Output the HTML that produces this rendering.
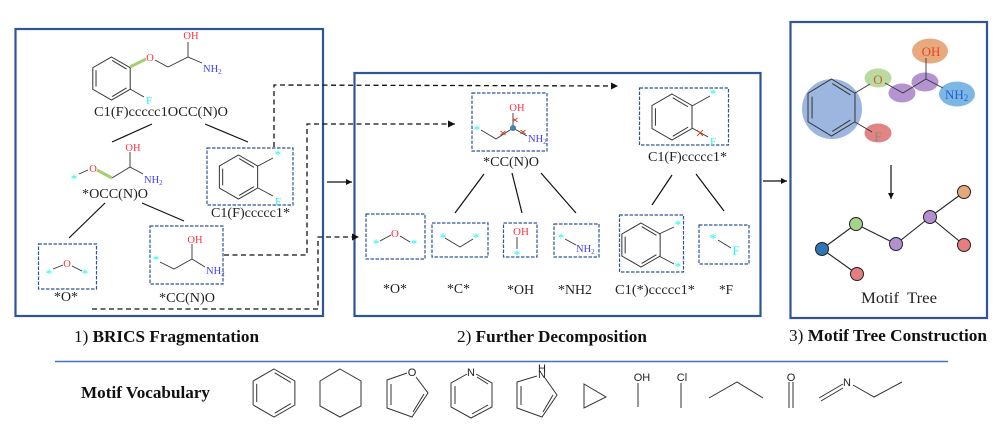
<!DOCTYPE html>
<html>
<head>
<meta charset="utf-8">
<style>
html,body{margin:0;padding:0;background:#fff;width:1006px;height:430px;overflow:hidden}
svg{display:block}
text{font-family:"Liberation Serif",serif;fill:#222}
.lbl{font-size:14px}
.ttl{font-size:17px;fill:#111}
.o{fill:#ff2f3f;font-size:10.5px;text-anchor:middle}
.n{fill:#3f3fff;font-size:10.5px}
.c{fill:#22f2f2;font-size:13px;text-anchor:middle}
.f{fill:#22f2f2;font-size:11px;text-anchor:middle}
.v{font-family:"Liberation Sans",sans-serif;font-size:11px;fill:#222;text-anchor:middle}
.box{fill:none;stroke:#2f5597;stroke-width:2.2}
.dbox{fill:none;stroke:#2f5597;stroke-width:1.2;stroke-dasharray:3.5 1.5}
.bond{fill:none;stroke:#333;stroke-width:.9}
.vb{fill:none;stroke:#333;stroke-width:1}
.tl{fill:none;stroke:#111;stroke-width:1.2}
.dash{fill:none;stroke:#111;stroke-width:1.3;stroke-dasharray:5 3.5}
.xm{fill:none;stroke:#d2401f;stroke-width:.9}
.node{stroke:#222;stroke-width:1}
</style>
</head>
<body>
<svg width="1006" height="430" viewBox="0 0 1006 430" xmlns="http://www.w3.org/2000/svg">
<defs>
<g id="bz" fill="none" stroke="#333" stroke-width="1"><path vector-effect="non-scaling-stroke" d="M0,-1L.87,-.5L.87,.5L0,1L-.87,.5L-.87,-.5Z"/><path vector-effect="non-scaling-stroke" d="M.03,-.84L.7,-.44M-.72,-.38L-.72,.38M.03,.84L.7,.44"/></g>
<marker id="ah" markerWidth="8" markerHeight="8" refX="6" refY="3" orient="auto" markerUnits="userSpaceOnUse"><path d="M0,0L6,3L0,6Z" fill="#111"/></marker>
<marker id="ah2" markerWidth="8" markerHeight="8" refX="7" refY="3.5" orient="auto" markerUnits="userSpaceOnUse"><path d="M0,0L7,3.5L0,7Z" fill="#111"/></marker>
</defs>

<!-- Panels -->
<rect class="box" x="15.5" y="29" width="307.5" height="287"/>
<rect class="box" x="354.5" y="73" width="406" height="243"/>
<rect class="box" x="790.5" y="22" width="196.5" height="296"/>

<!-- Panel 1: source molecule -->
<use href="#bz" transform="translate(111.5,78.5) scale(21.5)"/>
<path class="bond" d="M155,60L168,67L188,57L202,63M188,57V42M130,89L144,97"/>
<path d="M130,67L146,59" stroke="#a5cf70" stroke-width="3" fill="none"/>
<text class="o" x="150" y="61">O</text>
<text class="o" x="191" y="39">OH</text>
<text class="n" x="203" y="72">NH<tspan font-size="7" dy="2">2</tspan></text>
<text class="f" x="149" y="104">F</text>
<text class="lbl" x="94" y="116" textLength="134" lengthAdjust="spacingAndGlyphs">C1(F)ccccc1OCC(N)O</text>
<path class="tl" d="M112,142L152,124M205,124L248,142"/>

<!-- *OCC(N)O -->
<text class="c" x="74" y="183">*</text>
<path class="bond" d="M79,174L88,170M112,178L130,167V152M130,167L143,174"/>
<path d="M97,170L112,178" stroke="#a5cf70" stroke-width="3" fill="none"/>
<text class="o" x="93" y="172">O</text>
<text class="o" x="133" y="151">OH</text>
<text class="n" x="144" y="183">NH<tspan font-size="7" dy="2">2</tspan></text>
<text class="lbl" x="82" y="198" textLength="66" lengthAdjust="spacingAndGlyphs">*OCC(N)O</text>
<path class="tl" d="M105,203L69,238M142,203L184,221"/>

<!-- Fragment: benzene -->
<rect class="dbox" x="207" y="148" width="86" height="57"/>
<use href="#bz" transform="translate(238.5,177) scale(22)"/>
<path class="bond" d="M258,166L273,158M258,188L273,196"/>
<text class="c" x="278" y="159">*</text>
<text class="f" x="278" y="205">F</text>
<text class="lbl" x="211" y="217" textLength="79" lengthAdjust="spacingAndGlyphs">C1(F)ccccc1*</text>

<!-- Fragment: *O* -->
<rect class="dbox" x="38.5" y="244" width="58" height="45"/>
<text class="c" x="49" y="278">*</text>
<text class="c" x="85" y="278">*</text>
<path class="bond" d="M53,269L63,265M72,266L82,271"/>
<text class="o" x="67" y="267">O</text>
<text class="lbl" x="54" y="301" textLength="24" lengthAdjust="spacingAndGlyphs">*O*</text>

<!-- Fragment: *CC(N)O -->
<rect class="dbox" x="150" y="226" width="73" height="58"/>
<text class="c" x="156" y="264">*</text>
<path class="bond" d="M160,262L174,269L192,259V244M192,259L205,267"/>
<text class="o" x="195" y="243">OH</text>
<text class="n" x="206" y="274">NH<tspan font-size="7" dy="2">2</tspan></text>
<text class="lbl" x="159" y="302" textLength="56" lengthAdjust="spacingAndGlyphs">*CC(N)O</text>

<!-- Dashed connectors -->
<path class="dash" d="M274,147V85L618,86" marker-end="url(#ah2)"/>
<path class="dash" d="M224,255H307V124H455" marker-end="url(#ah2)"/>
<path class="dash" d="M92,309H318V237H359" marker-end="url(#ah2)"/>

<!-- Arrows between panels -->
<path class="tl" d="M327,182H352" marker-end="url(#ah)"/>
<path class="tl" d="M763,181H787" marker-end="url(#ah)"/>

<!-- Panel 2: *CC(N)O -->
<rect class="dbox" x="472" y="93" width="75" height="58"/>
<text class="c" x="477" y="134">*</text>
<path class="bond" d="M481,130L496,139L513,128V113M513,128L527,136"/>
<circle cx="513" cy="128" r="3" fill="#3f85b8"/>
<path class="xm" d="M512.5,118L517.5,122M517.5,118L512.5,122M500.5,131L505.5,135M505.5,131L500.5,135M520.5,130L525.5,134M525.5,130L520.5,134"/>
<text class="o" x="517" y="111">OH</text>
<text class="n" x="528" y="142">NH<tspan font-size="7" dy="2">2</tspan></text>
<text class="lbl" x="483" y="166" textLength="56" lengthAdjust="spacingAndGlyphs">*CC(N)O</text>

<!-- Panel 2: benzene fragment -->
<rect class="dbox" x="639.5" y="88" width="89" height="57"/>
<use href="#bz" transform="translate(672,117) scale(23)"/>
<path class="bond" d="M692,106L710,96M692,128L708,137"/>
<path class="xm" d="M697,130L703,136M703,130L697,136"/>
<text class="c" x="713" y="98">*</text>
<text class="f" x="713" y="145">F</text>
<text class="lbl" x="648" y="161" textLength="79" lengthAdjust="spacingAndGlyphs">C1(F)ccccc1*</text>

<path class="tl" d="M484,174L455,213M512,173L522,213M541,173L576,213M672,175L652,205M696,174L724,211"/>

<!-- Panel 2 row -->
<rect class="dbox" x="366" y="214" width="59" height="45"/>
<text class="c" x="376" y="248">*</text>
<text class="c" x="414" y="248">*</text>
<path class="bond" d="M380,241L391,235M400,236L410,242"/>
<text class="o" x="395" y="237" style="font-size:11px">O</text>

<rect class="dbox" x="432" y="223" width="56" height="34"/>
<text class="c" x="443" y="242">*</text>
<text class="c" x="476" y="242">*</text>
<path class="bond" d="M445,238L460,247L473,239"/>

<rect class="dbox" x="503.5" y="223" width="33.5" height="34"/>
<text class="o" x="521" y="235" style="font-size:11px">OH</text>
<path class="bond" d="M517,237V249"/>
<text class="c" x="517" y="259">*</text>

<rect class="dbox" x="554" y="224" width="45" height="33"/>
<text class="c" x="561" y="242">*</text>
<path class="bond" d="M565,239L576,245"/>
<text class="n" x="576" y="252">NH<tspan font-size="7" dy="2">2</tspan></text>

<rect class="dbox" x="619.5" y="215" width="64" height="57"/>
<use href="#bz" transform="translate(641,245) scale(22)"/>
<path class="bond" d="M659,234L674,227M659,256L674,264"/>
<text class="c" x="678" y="229">*</text>
<text class="c" x="678" y="271">*</text>

<rect class="dbox" x="699" y="225" width="50" height="39"/>
<text class="c" x="713" y="243" style="font-size:14px">*</text>
<path class="bond" d="M718,240L731,248"/>
<text class="f" x="736" y="255" style="font-size:13px">F</text>

<text class="lbl" x="383" y="293" textLength="24" lengthAdjust="spacingAndGlyphs">*O*</text>
<text class="lbl" x="447" y="293" textLength="23" lengthAdjust="spacingAndGlyphs">*C*</text>
<text class="lbl" x="507" y="294" textLength="27" lengthAdjust="spacingAndGlyphs">*OH</text>
<text class="lbl" x="558" y="294" textLength="34" lengthAdjust="spacingAndGlyphs">*NH2</text>
<text class="lbl" x="615" y="294" textLength="80" lengthAdjust="spacingAndGlyphs">C1(*)ccccc1*</text>
<text class="lbl" x="719" y="294" textLength="14" lengthAdjust="spacingAndGlyphs">*F</text>

<!-- Panel 3 -->
<circle cx="832" cy="109" r="30" fill="#9db6e0"/>
<ellipse cx="878" cy="78" rx="13.5" ry="9.5" fill="#bcd9a2"/>
<ellipse cx="902" cy="93" rx="13.5" ry="9.5" fill="#b494d0"/>
<ellipse cx="925" cy="82" rx="13.5" ry="9.5" fill="#b494d0"/>
<ellipse cx="930" cy="51" rx="18" ry="12.5" fill="#e8a97e"/>
<ellipse cx="957" cy="94" rx="18" ry="12.5" fill="#7db8e4"/>
<ellipse cx="878" cy="133" rx="13.5" ry="9.5" fill="#e28484"/>
<use href="#bz" transform="translate(831.5,107.5) scale(27,28.5)"/>
<path class="bond" d="M855,93L870,84M885,83L903,93L926,79V58M926,79L943,88M855,122L872,132"/>
<text x="878" y="84" text-anchor="middle" style="font-size:13px;fill:#c4622d">O</text>
<text x="931" y="56" text-anchor="middle" style="font-size:13px;fill:#e8431f">OH</text>
<text x="945" y="99" style="font-size:13px;fill:#1f5fd8">NH<tspan font-size="9" dy="2">2</tspan></text>
<text x="878" y="141" text-anchor="middle" style="font-size:13px;fill:#8a8a8a">F</text>
<path class="tl" d="M891,165V199" marker-end="url(#ah)"/>

<path class="bond" style="stroke:#222;stroke-width:1.1" d="M822,249L856,224L896,244L930,217L964,192M930,217L964,245M822,249L857,274"/>
<circle class="node" cx="822" cy="249" r="6.5" fill="#2e75b6"/>
<circle class="node" cx="856" cy="224" r="6.5" fill="#a9d18e"/>
<circle class="node" cx="896" cy="244" r="6.5" fill="#b38fd0"/>
<circle class="node" cx="930" cy="217" r="6.5" fill="#b38fd0"/>
<circle class="node" cx="964" cy="192" r="6.5" fill="#e8a87c"/>
<circle class="node" cx="964" cy="245" r="6.5" fill="#e57f7f"/>
<circle class="node" cx="857" cy="274" r="6.5" fill="#e57f7f"/>
<text x="861" y="303" textLength="76" lengthAdjust="spacingAndGlyphs" style="font-size:16px;fill:#222;white-space:pre">Motif  Tree</text>

<!-- Titles -->
<text class="ttl" x="74" y="342" textLength="185" lengthAdjust="spacingAndGlyphs">1) <tspan font-weight="bold">BRICS Fragmentation</tspan></text>
<text class="ttl" x="457" y="342" textLength="190" lengthAdjust="spacingAndGlyphs">2) <tspan font-weight="bold">Further Decomposition</tspan></text>
<text class="ttl" x="789" y="341" textLength="198" lengthAdjust="spacingAndGlyphs">3) <tspan font-weight="bold">Motif Tree Construction</tspan></text>

<path d="M55,361.5H948" stroke="#4472c4" stroke-width="1.6"/>

<!-- Motif vocabulary -->
<text x="81" y="398" textLength="129" lengthAdjust="spacingAndGlyphs" style="font-size:16.5px;font-weight:bold;fill:#111">Motif Vocabulary</text>
<use href="#bz" transform="translate(274,393) scale(24)"/>
<path class="vb" d="M340,369L361,381V406L340,417L320,406V381Z"/>
<!-- Furan -->
<path class="vb" d="M407,373L387,380V408L412,417L428,393L416,377M391,384V405M413,412L424,394"/>
<text class="v" x="412" y="376">O</text>
<!-- Pyridine -->
<path class="vb" d="M467,374L451,383V407L471,418L492,407V383L476,374M455,386V404M472,414L488,405M477,377L488,384"/>
<text class="v" x="471" y="376">N</text>
<!-- Pyrrole -->
<path class="vb" d="M537,376L517,382V408L542,417L557,395L545,378M521,386V405M543,412L553,395"/>
<text class="v" x="542" y="378">N</text>
<text class="v" x="542" y="372">H</text>
<!-- Triangle -->
<path class="vb" d="M584,384L606,397L584,408Z"/>
<!-- OH -->
<text class="v" x="642" y="381">OH</text>
<path class="vb" d="M638,383V407"/>
<!-- Cl -->
<text class="v" x="682" y="381">Cl</text>
<path class="vb" d="M681,383V408"/>
<!-- Propane -->
<path class="vb" d="M709,398L737,382L763,398"/>
<!-- C=O -->
<text class="v" x="791" y="381">O</text>
<path class="vb" d="M789,382V408M793,382V408"/>
<!-- Imine -->
<path class="vb" d="M819,398L843,384M821,401L843,388M853,385L874,397L902,382"/>
<text class="v" x="847" y="386">N</text>
</svg>
</body>
</html>
